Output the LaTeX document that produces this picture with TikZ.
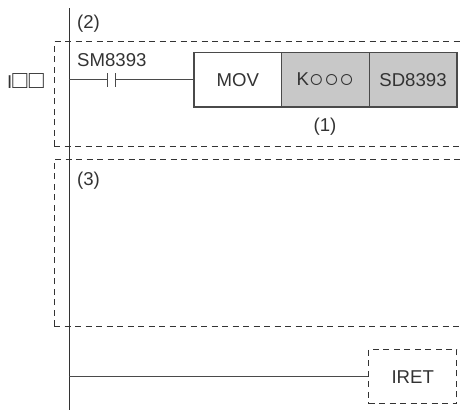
\documentclass[tikz,border=0pt]{standalone}
\usepackage{fontspec}
\setmainfont{Liberation Sans}
\definecolor{ink}{HTML}{333333}
\definecolor{wiregray}{HTML}{4A4A4A}
\definecolor{fillgray}{HTML}{C8C8C8}
\newcommand{\txtsize}{\fontsize{18.6}{21}\selectfont}
\newcommand{\cir}{{\fontsize{25}{25}\selectfont\raisebox{-2pt}{○}}}
\newcommand{\sqr}{{\fontsize{25}{25}\selectfont □}}
\tikzset{
  lbl/.style={text=ink,inner sep=0pt,font=\txtsize},
  cell/.style={draw=wiregray,line width=1.4pt,minimum height=54.5pt,minimum width=87.6pt,inner sep=0pt,text=ink,font=\txtsize},
  wire/.style={draw=wiregray,line width=1.4pt},
  rail/.style={draw=ink,line width=1pt},
  dashframe/.style={draw=ink,line width=1pt,dash pattern=on 6pt off 4.5pt}
}
\begin{document}
\begin{tikzpicture}[x=1pt,y=-1pt]
\useasboundingbox (0,0) rectangle (467,410);
\draw[dashframe] (54,146) -- (54,41.5) -- (463,41.5);
\draw[dashframe] (54,146) -- (463,146);
\draw[dashframe] (54,326) -- (54,159) -- (463,159);
\draw[dashframe] (54,326) -- (463,326);
\coordinate (railtop) at (69.3,8);
\coordinate (railbot) at (69.3,410);
\draw[rail] (railtop) -- (railbot);
\node[lbl,anchor=base west] (l2) at (77,28) {(2)};
\node[lbl,anchor=base west] (l3) at (77,185) {(3)};
\node[lbl,anchor=base] (l1) at (325,131) {(1)};
\node[lbl,anchor=base west] (sm) at (77,66) {SM8393};
\node[lbl,anchor=base west] (int) at (7,88) {I\sqr\kern1.5pt\sqr};
\node[cell,fill=white] (mov) at (237.8,79.7) {MOV};
\node[cell,fill=fillgray] (k) at (325.4,79.7) {\raisebox{-1pt}{K\cir\cir\cir}};
\node[cell,fill=fillgray] (sd) at (413,79.7) {SD8393};
\coordinate (r1) at (69.3,79.7);
\coordinate (c1) at (107.5,79.7);
\coordinate (c2) at (115.5,79.7);
\coordinate (c1t) at (107.5,73);
\coordinate (c1b) at (107.5,87);
\coordinate (c2t) at (115.5,73);
\coordinate (c2b) at (115.5,87);
\draw[wire] (r1) -- (c1);
\draw[wire] (c2) -- (mov.west);
\draw[wire] (c1t) -- (c1b);
\draw[wire] (c2t) -- (c2b);
\node[dashframe,minimum width=88pt,minimum height=54.5pt,inner sep=0pt,text=ink,font=\txtsize] (iret) at (412.7,376.7) {\raisebox{-1.5pt}{IRET}};
\coordinate (r2) at (69.3,376.7);
\draw[wire] (r2) -- (iret.west);
\end{tikzpicture}
\end{document}
